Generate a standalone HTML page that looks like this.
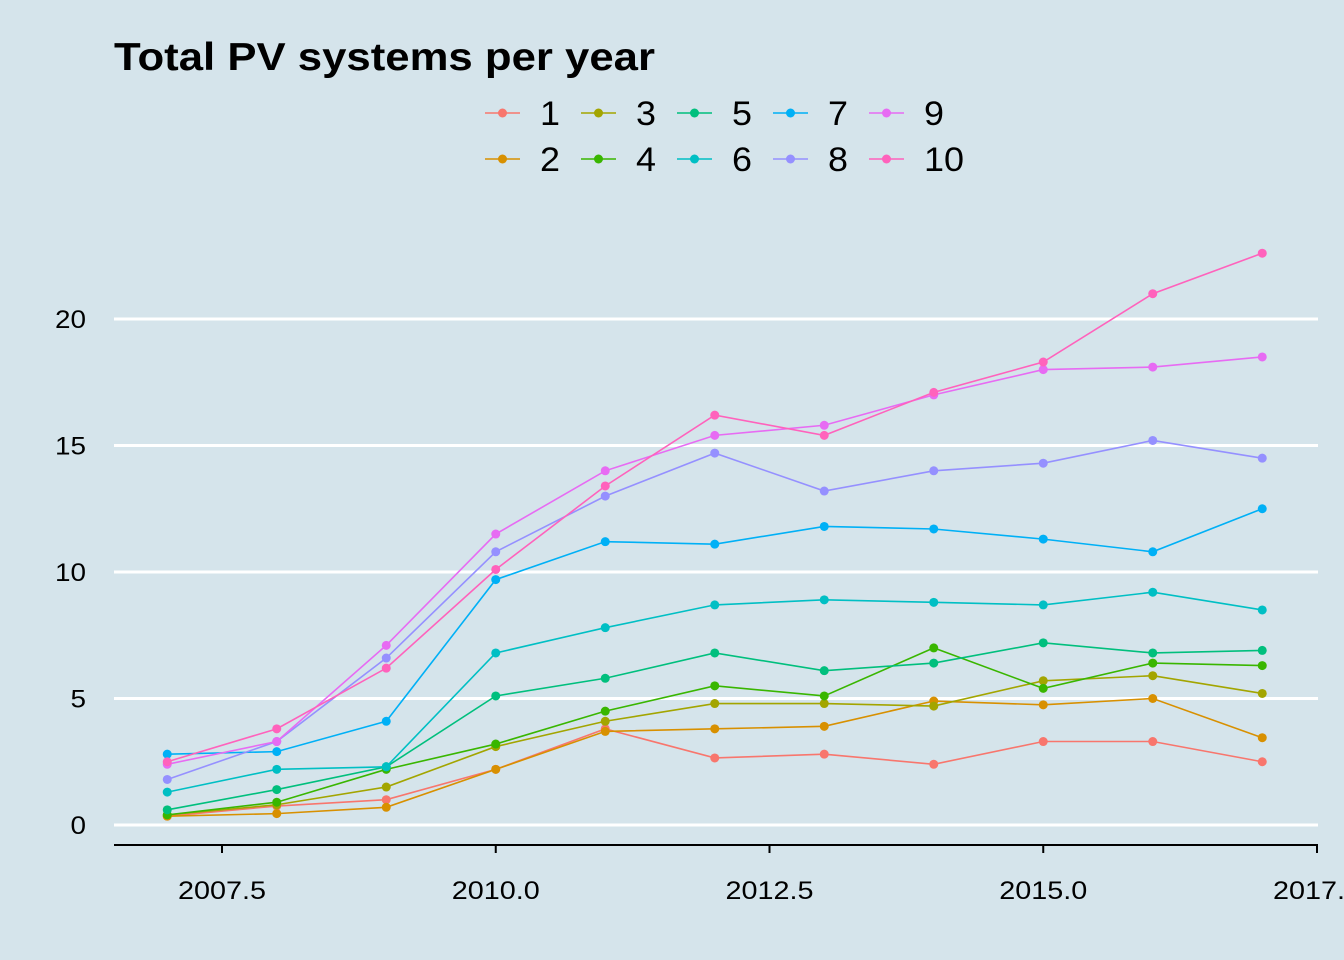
<!DOCTYPE html>
<html><head><meta charset="utf-8"><style>
html,body{margin:0;padding:0;background:#d5e4eb;overflow:hidden;}
svg{display:block;font-family:"Liberation Sans",Arial,sans-serif;}
</style></head><body>
<svg id="chart" width="1344" height="960" viewBox="0 0 1344 960" xmlns="http://www.w3.org/2000/svg">
<rect width="1344" height="960" fill="#d5e4eb"/>
<text x="114" y="70" font-size="39" font-weight="bold" fill="#000" textLength="541" lengthAdjust="spacingAndGlyphs">Total PV systems per year</text>
<g id="grid"></g><g id="axes"></g><g id="series"></g><g id="legend"></g>
</svg>
<script>
const years = [2007,2008,2009,2010,2011,2012,2013,2014,2015,2016,2017];
const seriesNames = ["1","2","3","4","5","6","7","8","9","10"];
const s1 = [0.35,0.75,1.0,2.2,3.8,2.65,2.8,2.4,3.3,3.3,2.5];
const s2 = [0.35,0.45,0.7,2.2,3.7,3.8,3.9,4.9,4.75,5.0,3.45];
const s3 = [0.4,0.8,1.5,3.1,4.1,4.8,4.8,4.7,5.7,5.9,5.2];
const s4 = [0.4,0.9,2.2,3.2,4.5,5.5,5.1,7.0,5.4,6.4,6.3];
const s5 = [0.6,1.4,2.3,5.1,5.8,6.8,6.1,6.4,7.2,6.8,6.9];
const s6 = [1.3,2.2,2.3,6.8,7.8,8.7,8.9,8.8,8.7,9.2,8.5];
const s7 = [2.8,2.9,4.1,9.7,11.2,11.1,11.8,11.7,11.3,10.8,12.5];
const s8 = [1.8,3.3,6.6,10.8,13.0,14.7,13.2,14.0,14.3,15.2,14.5];
const s9 = [2.4,3.3,7.1,11.5,14.0,15.4,15.8,17.0,18.0,18.1,18.5];
const s10 = [2.5,3.8,6.2,10.1,13.4,16.2,15.4,17.1,18.3,21.0,22.6];
const yTicks = [0,5,10,15,20];
const xTicks = [2007.5,2010.0,2012.5,2015.0,2017.5];
const xTickLabels = ["2007.5","2010.0","2012.5","2015.0","2017.5"];
const colors = ["#F8766D","#D89000","#A3A500","#39B600","#00BF7D","#00BFC4","#00B0F6","#9590FF","#E76BF3","#FF62BC"];
const allSeries = [s1,s2,s3,s4,s5,s6,s7,s8,s9,s10];

const NS="http://www.w3.org/2000/svg";
const X = v => 222 + (v-2007.5)*109.5;
const Y = v => 825 - v*25.3;
function mk(tag, attrs, parent){const e=document.createElementNS(NS,tag);for(const k in attrs)e.setAttribute(k,attrs[k]);parent.appendChild(e);return e;}
const grid=document.getElementById('grid'), axes=document.getElementById('axes'), ser=document.getElementById('series'), leg=document.getElementById('legend');
yTicks.forEach(t=>{
  const l=mk('line',{x1:114,x2:1318,y1:Y(t),y2:Y(t),stroke:'#fff','stroke-width':3},grid);
  
  
  const s=String(t);
  const tx=mk('text',{x:86,y:Y(t)+9,'font-size':25,'text-anchor':'end',fill:'#000',textLength:15.5*s.length,lengthAdjust:'spacingAndGlyphs'},axes);
  tx.textContent=s;
  
  
});
const ax=mk('line',{x1:114,x2:1318,y1:845,y2:845,stroke:'#000','stroke-width':2},axes);


xTicks.forEach((t,i)=>{
  const tk=mk('line',{x1:X(t),x2:X(t),y1:845,y2:853,stroke:'#000','stroke-width':2},axes);
  
  
  const tx=mk('text',{x:X(t)-44,y:899,'font-size':25,fill:'#000',textLength:88,lengthAdjust:'spacingAndGlyphs'},axes);
  tx.textContent=xTickLabels[i];
  
  
});
allSeries.forEach((s,si)=>{
  const g=mk('g',{},ser);
  
  
  const pl=mk('polyline',{points:s.map((v,i)=>X(years[i])+','+Y(v)).join(' '),fill:'none',stroke:colors[si],'stroke-width':1.6},g);
  
  
  s.forEach((v,i)=>{
    const c=mk('circle',{cx:X(years[i]),cy:Y(v),r:4.5,fill:colors[si]},g);
    
    
  });
});
const colX=[485,581,677,773,869], rowY=[113,159];
seriesNames.forEach((n,i)=>{
  const cx=colX[Math.floor(i/2)], cy=rowY[i%2];
  const g=mk('g',{},leg);
  
  
  mk('line',{x1:cx,x2:cx+35,y1:cy,y2:cy,stroke:colors[i],'stroke-width':1.6},g);
  mk('circle',{cx:cx+17.5,cy:cy,r:4.5,fill:colors[i]},g);
  const t=mk('text',{x:cx+55,y:cy+12,'font-size':34,fill:'#000',textLength:20*n.length,lengthAdjust:'spacingAndGlyphs'},g);
  t.textContent=n;
});
</script>
</body></html>
